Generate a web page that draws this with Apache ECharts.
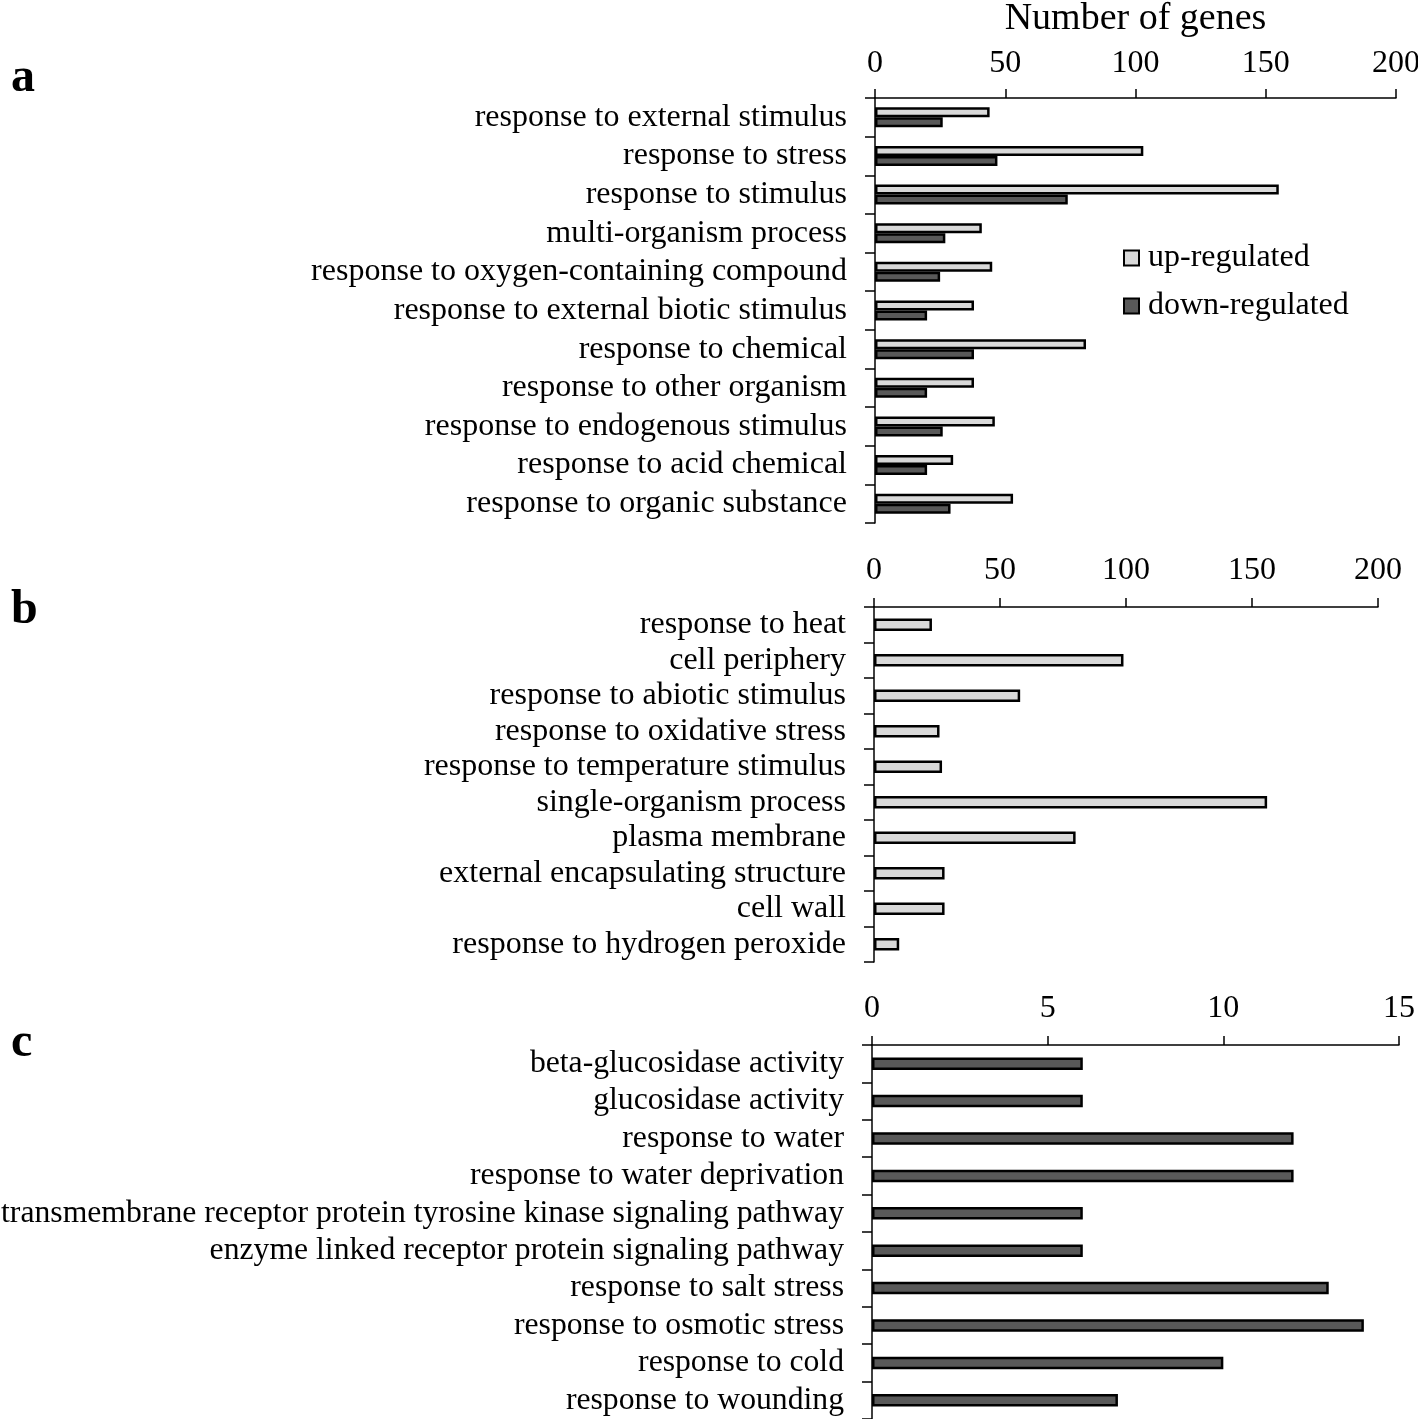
<!DOCTYPE html>
<html><head><meta charset="utf-8">
<script src="https://cdn.jsdelivr.net/npm/echarts@6/dist/echarts.min.js"></script>
<style>html,body{margin:0;padding:0;background:#fff}#c{width:1418px;height:1419px}</style>
</head><body><div id="c"></div>
<script>
const catsA = ["response to external stimulus","response to stress","response to stimulus","multi-organism process","response to oxygen-containing compound","response to external biotic stimulus","response to chemical","response to other organism","response to endogenous stimulus","response to acid chemical","response to organic substance"];
const upA = [44,103,155,41,45,38,81,38,46,30,53];
const downA = [26,47,74,27,25,20,38,20,26,20,29];
const catsB = ["response to heat","cell periphery","response to abiotic stimulus","response to oxidative stress","response to temperature stimulus","single-organism process","plasma membrane","external encapsulating structure","cell wall","response to hydrogen peroxide"];
const upB = [23,99,58,26,27,156,80,28,28,10];
const catsC = ["beta-glucosidase activity","glucosidase activity","response to water","response to water deprivation","transmembrane receptor protein tyrosine kinase signaling pathway","enzyme linked receptor protein signaling pathway","response to salt stress","response to osmotic stress","response to cold","response to wounding"];
const downC = [6,6,12,12,6,6,13,14,10,7];

const FONT = "Liberation Serif";
const INK = "#000";
const UP = "#d9d9d9", DOWN = "#595959";
const FS = 32;

function xAx(gi, max, interval, margin, name) {
  return {
    gridIndex: gi, type: 'value', position: 'top', min: 0, max: max, interval: interval,
    name: name || '', nameLocation: 'middle', nameGap: 60,
    nameTextStyle: {fontFamily: FONT, fontSize: 38, color: INK},
    axisLine: {show: true, lineStyle: {color: INK, width: 1.5}},
    axisTick: {show: true, length: 9, lineStyle: {color: INK, width: 1.5}},
    axisLabel: {fontFamily: FONT, fontSize: FS, color: INK, margin: margin},
    splitLine: {show: false}
  };
}
function yAx(gi, cats, fs) {
  return {
    gridIndex: gi, type: 'category', data: cats, inverse: true,
    axisLine: {show: true, lineStyle: {color: INK, width: 1.5}},
    axisTick: {show: true, length: 10, interval: 0, lineStyle: {color: INK, width: 1.5}},
    axisLabel: {fontFamily: FONT, fontSize: fs, color: INK, margin: 28, interval: 0}
  };
}
const bs = (color) => ({color: color, borderColor: INK, borderWidth: 2.5});

const option = {
  backgroundColor: '#fff',
  animation: false,
  title: [
    {text: 'a', left: 6, top: 50, textStyle: {fontFamily: FONT, fontSize: 48, fontWeight: 'bold', color: INK}},
    {text: 'b', left: 6, top: 582, textStyle: {fontFamily: FONT, fontSize: 48, fontWeight: 'bold', color: INK}},
    {text: 'c', left: 6, top: 1015, textStyle: {fontFamily: FONT, fontSize: 48, fontWeight: 'bold', color: INK}}
  ],
  legend: {
    orient: 'vertical', left: 1118, top: 237, itemWidth: 15, itemHeight: 15, itemGap: 16,
    icon: 'rect',
    textStyle: {fontFamily: FONT, fontSize: FS, color: INK, padding: [0, 0, 0, 4]},
    data: ['up-regulated', 'down-regulated']
  },
  grid: [
    {left: 875, right: 22, top: 98, height: 425, outerBoundsMode: 'none', containLabel: false},
    {left: 874, right: 40, top: 607, height: 355, outerBoundsMode: 'none', containLabel: false},
    {left: 872, right: 19, top: 1045, height: 374, outerBoundsMode: 'none', containLabel: false}
  ],
  xAxis: [xAx(0, 200, 50, 18, 'Number of genes'), xAx(1, 200, 50, 20), xAx(2, 15, 5, 20)],
  yAxis: [yAx(0, catsA, FS), yAx(1, catsB, FS), yAx(2, catsC, 31.7)],
  series: [
    {name: 'up-regulated', type: 'bar', xAxisIndex: 0, yAxisIndex: 0, data: upA, barWidth: 10, barGap: '0%', itemStyle: bs(UP)},
    {name: 'down-regulated', type: 'bar', xAxisIndex: 0, yAxisIndex: 0, data: downA, barWidth: 10, barGap: '0%', itemStyle: bs(DOWN)},
    {name: 'up-b', type: 'bar', xAxisIndex: 1, yAxisIndex: 1, data: upB, barWidth: 12.5, itemStyle: bs(UP)},
    {name: 'down-c', type: 'bar', xAxisIndex: 2, yAxisIndex: 2, data: downC, barWidth: 12.5, itemStyle: bs(DOWN)}
  ]
};
const chart = echarts.init(document.getElementById('c'), null, {renderer: 'canvas'});
chart.setOption(option);
</script></body></html>
